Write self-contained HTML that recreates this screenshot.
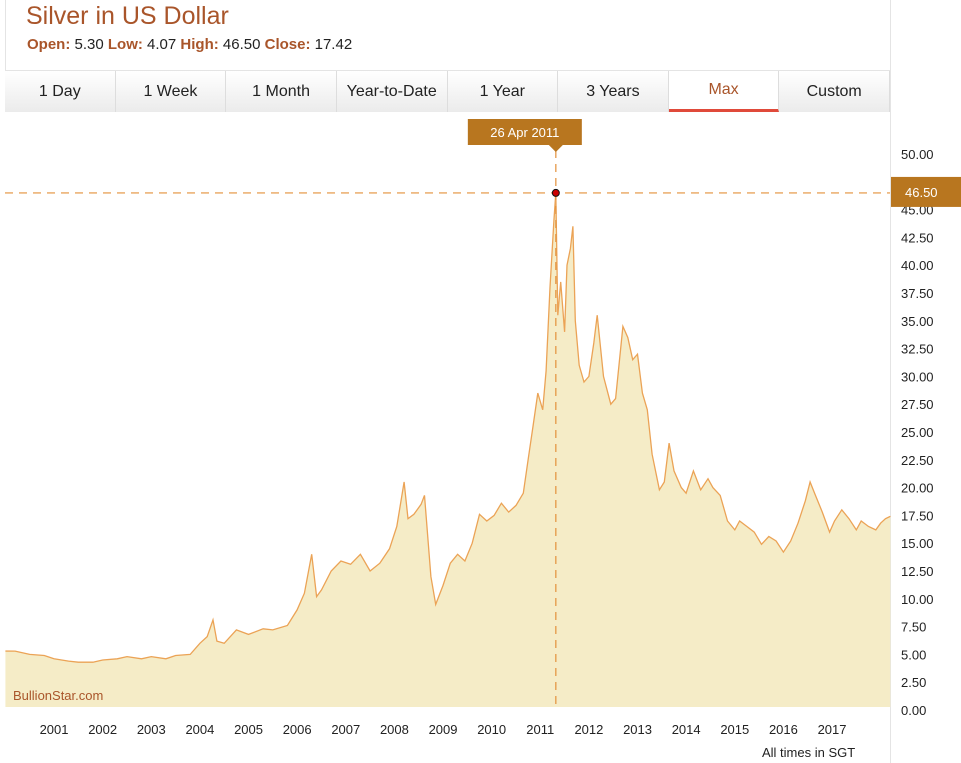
<!DOCTYPE html>
<html><head><meta charset="utf-8"><style>
body{margin:0;width:961px;height:763px;background:#fff;font-family:"Liberation Sans",sans-serif;position:relative;overflow:hidden}
#title{position:absolute;left:26px;top:2px;font-size:25px;color:#a9552a}
#stats{position:absolute;left:27px;top:36px;font-size:15px;color:#222}
#stats b{color:#a9552a}
#tabs{position:absolute;left:5px;top:70px;width:885px;height:41px;display:flex;border-top:1px solid #e4e4e4}
.tab{flex:1;text-align:center;line-height:41px;font-size:16px;color:#222;background:linear-gradient(#fff,#ebebeb);border-right:1px solid #ddd;box-sizing:border-box}
.tab.active{background:#fff;border-bottom:3px solid #e04a3a;line-height:38px;color:#a9552a}
#frame{position:absolute;left:890px;top:0;width:1px;height:763px;background:#e4e4e4}
#frameL{position:absolute;left:5px;top:0;width:1px;height:70px;background:#e4e4e4}
svg{position:absolute;left:0;top:0}
</style></head><body>
<div id="title">Silver in US Dollar</div>
<div id="stats"><b>Open:</b> 5.30 <b>Low:</b> 4.07 <b>High:</b> 46.50 <b>Close:</b> 17.42</div>
<div id="frame"></div>
<div id="frameL"></div>
<div id="tabs">
<div class="tab">1 Day</div>
<div class="tab">1 Week</div>
<div class="tab">1 Month</div>
<div class="tab">Year-to-Date</div>
<div class="tab">1 Year</div>
<div class="tab">3 Years</div>
<div class="tab active">Max</div>
<div class="tab">Custom</div>
</div>
<svg id="chart" width="961" height="763"></svg>
<script>
const times=[2000.0,2000.2,2000.5,2000.8,2001.0,2001.3,2001.5,2001.8,2002.0,2002.3,2002.5,2002.8,2003.0,2003.3,2003.5,2003.8,2004.0,2004.15,2004.27,2004.35,2004.5,2004.75,2005.0,2005.3,2005.5,2005.8,2006.0,2006.15,2006.3,2006.4,2006.5,2006.7,2006.9,2007.1,2007.3,2007.5,2007.7,2007.9,2008.05,2008.2,2008.28,2008.4,2008.55,2008.62,2008.75,2008.85,2009.0,2009.15,2009.3,2009.45,2009.6,2009.75,2009.9,2010.05,2010.2,2010.35,2010.5,2010.65,2010.75,2010.85,2010.95,2011.05,2011.12,2011.2,2011.28,2011.32,2011.36,2011.42,2011.5,2011.55,2011.62,2011.67,2011.72,2011.8,2011.9,2012.0,2012.1,2012.17,2012.3,2012.45,2012.55,2012.7,2012.8,2012.9,2013.0,2013.1,2013.2,2013.3,2013.45,2013.55,2013.65,2013.75,2013.9,2014.0,2014.15,2014.3,2014.45,2014.55,2014.7,2014.85,2015.0,2015.1,2015.25,2015.4,2015.55,2015.7,2015.85,2016.0,2016.15,2016.3,2016.45,2016.55,2016.65,2016.8,2016.95,2017.05,2017.2,2017.35,2017.5,2017.6,2017.75,2017.9,2018.0,2018.1,2018.2];
const prices=[5.3,5.3,5.0,4.9,4.6,4.4,4.3,4.3,4.5,4.6,4.8,4.6,4.8,4.6,4.9,5.0,6.0,6.6,8.1,6.2,6.0,7.2,6.8,7.3,7.2,7.6,9.0,10.5,14.0,10.2,10.8,12.5,13.4,13.1,14.0,12.5,13.2,14.5,16.5,20.5,17.2,17.6,18.5,19.3,12.0,9.5,11.2,13.2,14.0,13.4,15.0,17.6,17.0,17.5,18.6,17.8,18.4,19.5,22.5,25.5,28.5,27.0,30.5,38.0,44.0,46.5,35.5,38.5,34.0,40.0,41.5,43.5,35.0,31.0,29.5,30.0,33.0,35.5,30.0,27.5,28.0,34.5,33.5,31.5,32.0,28.5,27.0,23.0,19.8,20.5,24.0,21.5,20.0,19.5,21.5,19.8,20.8,20.0,19.3,17.0,16.2,17.0,16.5,16.0,14.9,15.6,15.2,14.2,15.2,16.8,18.8,20.5,19.4,17.8,16.0,17.0,18.0,17.2,16.2,17.0,16.5,16.2,16.8,17.2,17.42];
const yTicks=[0,2.5,5,7.5,10,12.5,15,17.5,20,22.5,25,27.5,30,32.5,35,37.5,40,42.5,45,47.5,50];
const xTicks=[2001,2002,2003,2004,2005,2006,2007,2008,2009,2010,2011,2012,2013,2014,2015,2016,2017];
const peakTime=2011.32, peakValue=46.5, peakLabel="26 Apr 2011";
const X=t=>5.4+(t-2000)*48.625, Y=v=>710-v*11.12;
const svg=document.getElementById('chart'),NS='http://www.w3.org/2000/svg';
function mk(tag,attrs){const e=document.createElementNS(NS,tag);for(const k in attrs)e.setAttribute(k,attrs[k]);svg.appendChild(e);return e;}
let d='M'+X(times[0])+','+Y(prices[0]);
for(let i=1;i<times.length;i++)d+=' L'+X(times[i]).toFixed(1)+','+Y(prices[i]).toFixed(1);
const area=mk('path',{d:d+' L'+X(times[times.length-1])+',707 L'+X(times[0])+',707 Z',fill:'#f5ecc7'});


const line=mk('path',{d:d,fill:'none',stroke:'#eba356','stroke-width':1.3});


yTicks.forEach(v=>{const t=mk('text',{x:901,y:Y(v)+5,'font-size':13,fill:'#222'});t.textContent=v.toFixed(2);

});
xTicks.forEach(v=>{const t=mk('text',{x:X(v),y:734,'font-size':13,fill:'#222','text-anchor':'middle'});t.textContent=v;

});
const hl=mk('line',{x1:5,x2:890,y1:Y(peakValue),y2:Y(peakValue),stroke:'#e3903a','stroke-dasharray':'8,6','stroke-width':1.2});


const vl=mk('line',{x1:X(peakTime),x2:X(peakTime),y1:150,y2:710,stroke:'#e3903a','stroke-dasharray':'8,6','stroke-width':1.2});


const pt=mk('circle',{cx:X(peakTime),cy:Y(peakValue),r:3.5,fill:'#c00',stroke:'#111','stroke-width':1});


const px=X(peakTime);
const tb=mk('path',{d:`M${px-88},119 h114 v26 h-19 l-7,7 l-7,-7 h-81 z`,fill:'#b8761f'});


const tt=mk('text',{x:px-31,y:137,'font-size':13,fill:'#fff','text-anchor':'middle'});tt.textContent=peakLabel;


const pb=mk('rect',{x:891,y:Y(peakValue)-16,width:70,height:30,fill:'#b8761f'});


const pl=mk('text',{x:905,y:Y(peakValue)+4,'font-size':13,fill:'#fff'});pl.textContent=peakValue.toFixed(2);


const wm=mk('text',{x:13,y:700,'font-size':13,fill:'#a9552a'});wm.textContent='BullionStar.com';


const tz=mk('text',{x:762,y:757,'font-size':13,fill:'#222'});tz.textContent='All times in SGT';


</script>
</body></html>
